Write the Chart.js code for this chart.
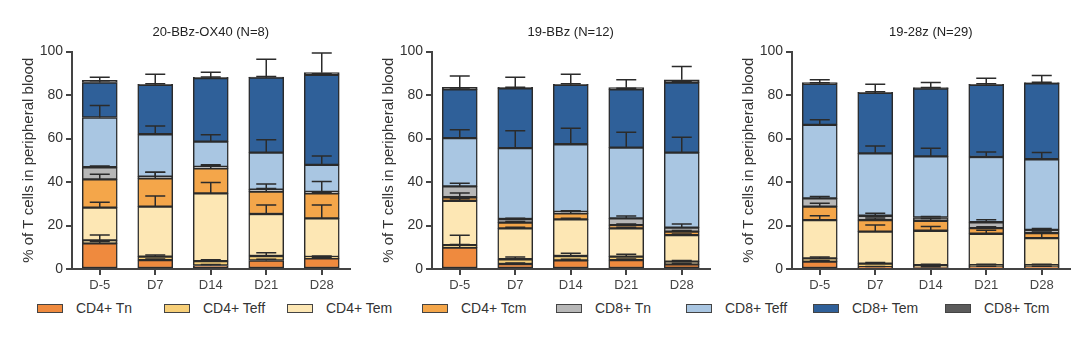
<!DOCTYPE html>
<html>
<head>
<meta charset="utf-8">
<script src="https://cdn.jsdelivr.net/npm/chart.js@4.4.1/dist/chart.umd.min.js"></script>
<style>
  body { margin: 0; background: #fff; width: 1080px; height: 337px; overflow: hidden; position: relative;
         font-family: "Liberation Sans", Arial, sans-serif; }
  .panel { position: absolute; top: 0; }
  .lg { position: absolute; top: 300px; height: 16px; display: flex; align-items: center;
        font-size: 14px; color: #333; white-space: nowrap; }
  .lg i { display: inline-block; width: 24px; height: 7px; border: 1px solid #444; margin-right: 13px; }
</style>
</head>
<body>
<canvas id="c0" class="panel" style="left:0" width="352" height="300"></canvas>
<canvas id="c1" class="panel" style="left:360px" width="352" height="300"></canvas>
<canvas id="c2" class="panel" style="left:720px" width="352" height="300"></canvas>
<div id="legend"></div>
<script>
const days = ["D-5", "D7", "D14", "D21", "D28"];
const subsets = ["CD4+ Tn", "CD4+ Teff", "CD4+ Tem", "CD4+ Tcm", "CD8+ Tn", "CD8+ Teff", "CD8+ Tem", "CD8+ Tcm"];
const titles = ["20-BBz-OX40 (N=8)", "19-BBz (N=12)", "19-28z (N=29)"];

// mean % per subset (rows in subsets order, bottom -> top), one value per day
const ox40Mean = [
    [11.8, 4.1, 1.6, 3.9, 4.9],
    [1.4, 1.6, 2.0, 2.1, 0.6],
    [15.0, 23.0, 31.2, 19.3, 17.8],
    [13.0, 13.0, 11.5, 10.3, 11.5],
    [5.6, 0.8, 0.7, 0.9, 0.7],
    [22.9, 19.5, 11.6, 17.0, 12.4],
    [16.1, 22.7, 29.2, 34.5, 41.4],
    [1.0, 0.3, 0.4, 0.3, 1.0],
];
const ox40Sem = [
    [0.8, 0.5, 0.5, 0.6, 0.5],
    [2.4, 0.7, 0.7, 1.5, 0.5],
    [2.5, 4.9, 5.0, 4.1, 6.1],
    [2.4, 2.8, 1.2, 3.5, 0.5],
    [0.6, 2.0, 1.0, 0.5, 4.7],
    [5.5, 3.8, 3.1, 5.9, 4.1],
    [0.8, 0.5, 0.5, 0.5, 0.5],
    [1.4, 4.6, 2.3, 8.2, 9.0],
];
const bbzMean = [
    [9.8, 2.3, 4.0, 4.1, 2.1],
    [1.2, 2.2, 2.0, 1.6, 1.3],
    [20.3, 14.2, 16.8, 13.0, 12.2],
    [1.7, 2.6, 2.8, 1.5, 1.6],
    [5.0, 1.7, 0.7, 3.1, 1.8],
    [22.2, 32.6, 31.1, 32.5, 34.5],
    [22.4, 27.5, 27.3, 26.8, 32.2],
    [1.0, 0.5, 0.3, 0.8, 1.3],
];
const bbzSem = [
    [1.5, 0.5, 0.5, 0.5, 0.5],
    [4.5, 1.0, 1.2, 1.1, 0.5],
    [1.0, 0.5, 0.5, 0.5, 0.5],
    [2.0, 0.5, 0.8, 0.5, 0.5],
    [1.5, 0.3, 0.5, 1.1, 1.7],
    [3.8, 8.0, 7.3, 7.1, 7.1],
    [0.6, 0.5, 0.5, 0.5, 0.5],
    [5.2, 4.6, 4.6, 3.6, 6.1],
];
const cd28Mean = [
    [3.4, 0.8, 0.7, 1.0, 1.0],
    [1.5, 1.7, 1.1, 0.8, 0.8],
    [17.6, 14.7, 15.8, 14.4, 12.4],
    [6.2, 5.3, 4.6, 2.6, 2.3],
    [3.8, 2.0, 1.5, 2.7, 1.5],
    [33.8, 28.7, 28.1, 30.0, 32.5],
    [18.9, 27.8, 31.2, 33.2, 34.9],
    [0.5, 0.3, 0.5, 0.3, 0.4],
];
const cd28Sem = [
    [0.5, 0.3, 0.3, 0.3, 0.3],
    [0.6, 0.5, 0.4, 0.4, 0.4],
    [2.0, 3.0, 2.0, 1.6, 2.6],
    [1.5, 1.0, 1.0, 0.6, 0.5],
    [0.8, 1.1, 0.5, 1.2, 0.6],
    [2.3, 3.4, 3.8, 2.3, 3.1],
    [0.5, 0.5, 0.5, 0.5, 0.5],
    [1.3, 3.7, 2.3, 2.7, 3.2],
];

const colors = ["#ef8a3e", "#f7cf78", "#fde7b4", "#f4a64a", "#b7b7b7", "#a9c6e2", "#2f6099", "#5b5b5b"];
const ink = "#2b2b2b";

// upper SEM whisker on top of every segment
const errorBars = {
    id: "errorBars",
    afterDatasetsDraw(chart) {
        const { ctx, scales: { y } } = chart;
        const sems = chart.options.plugins.errorBars.sems;
        ctx.save();
        ctx.strokeStyle = ink;
        ctx.lineWidth = 1.5;
        chart.data.datasets.forEach((ds, i) => {
            chart.getDatasetMeta(i).data.forEach((bar, j) => {
                let top = 0;
                for (let k = 0; k <= i; k++) top += chart.data.datasets[k].data[j];
                const yTop = y.getPixelForValue(top);
                const yErr = y.getPixelForValue(top + sems[i][j]);
                ctx.beginPath();
                ctx.moveTo(bar.x, yTop);
                ctx.lineTo(bar.x, yErr);
                ctx.moveTo(bar.x - 10, yErr);
                ctx.lineTo(bar.x + 10, yErr);
                ctx.stroke();
            });
        });
        ctx.restore();
    },
};

function makePanel(id, title, means, sems) {
    const datasets = means.map((row, i) => ({
        label: subsets[i],
        data: row,
        backgroundColor: colors[i],
        borderColor: ink,
        borderWidth: 1.5,
        borderSkipped: false,
        barThickness: 35,
    }));
    new Chart(document.getElementById(id), {
        type: "bar",
        data: { labels: days, datasets },
        plugins: [errorBars],
        options: {
            responsive: false,
            animation: false,
            devicePixelRatio: 1,
            layout: { padding: { right: 2.5 } },
            plugins: {
                legend: { display: false },
                tooltip: { enabled: false },
                errorBars: { sems },
                title: {
                    display: true,
                    fullSize: false,
                    text: title,
                    color: "#222",
                    font: { family: "Liberation Sans", size: 13, weight: "normal" },
                    padding: { top: 25, bottom: 11 },
                },
            },
            scales: {
                x: {
                    stacked: true,
                    afterFit: (s) => { s.height = 31; },
                    ticks: {
                        color: "#444",
                        padding: 3,
                        maxRotation: 0,
                        font: { family: "Liberation Sans", size: 13 },
                    },
                    grid: { drawOnChartArea: false, offset: false, tickLength: 6, color: "#444", lineWidth: 2 },
                    border: { color: "#444", width: 2 },
                },
                y: {
                    stacked: true,
                    min: 0,
                    max: 100,
                    afterFit: (s) => { s.width = 72; },
                    ticks: {
                        stepSize: 20,
                        color: "#333",
                        padding: 3,
                        font: { family: "Liberation Sans", size: 14 },
                    },
                    grid: { drawOnChartArea: false, tickLength: 6, color: "#444", lineWidth: 2 },
                    border: { color: "#444", width: 2 },
                    title: {
                        display: true,
                        text: "% of T cells in peripheral blood",
                        color: "#333",
                        font: { family: "Liberation Sans", size: 15 },
                        padding: { top: 20, bottom: 0 },
                    },
                },
            },
        },
    });
}

makePanel("c0", titles[0], ox40Mean, ox40Sem);
makePanel("c1", titles[1], bbzMean, bbzSem);
makePanel("c2", titles[2], cd28Mean, cd28Sem);

// legend row under the panels
const legendLeft = [37, 164, 287, 422, 556, 686, 813, 945];
const legend = document.getElementById("legend");
subsets.forEach((name, i) => {
    const el = document.createElement("div");
    el.className = "lg";
    el.style.left = legendLeft[i] + "px";
    el.innerHTML = `<i style="background:${colors[i]}"></i>${name}`;
    legend.appendChild(el);
});
</script>
</body>
</html>
